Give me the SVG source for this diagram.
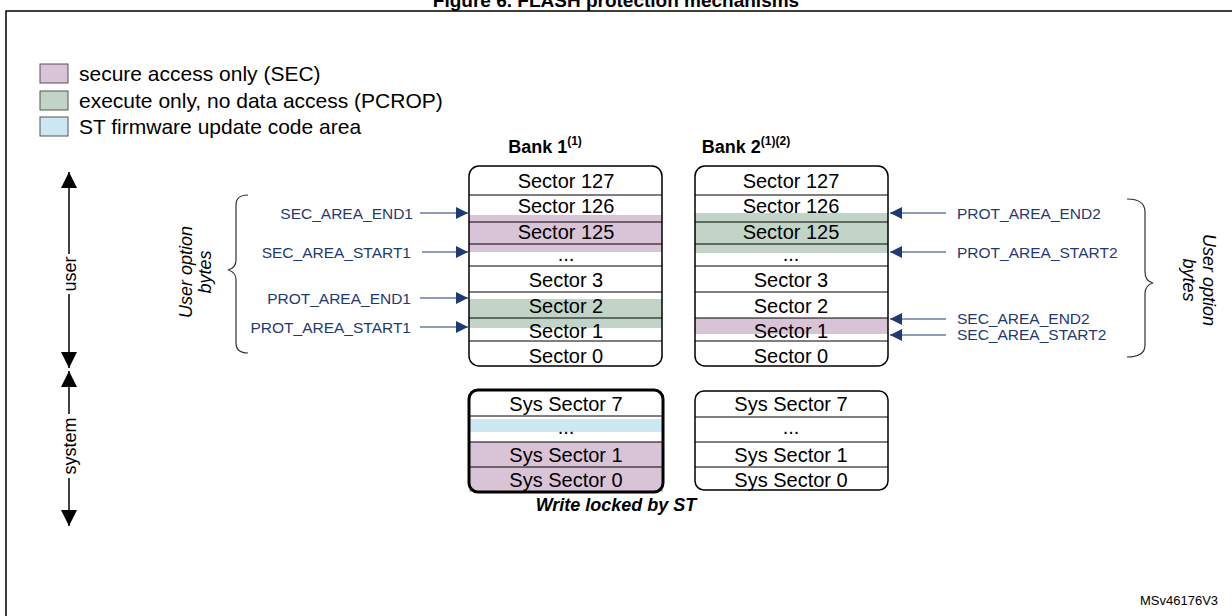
<svg xmlns="http://www.w3.org/2000/svg" width="1232" height="616" viewBox="0 0 1232 616">
<defs>
<style>
text{font-family:"Liberation Sans",Arial,sans-serif;fill:#000}
.sec{font-size:20px;text-anchor:middle}
.lbl{font-size:15.5px;fill:#1f3a73}
.leg{font-size:21px}
.row{stroke:#000;stroke-width:1;fill:none}
.box{fill:none;stroke:#000;stroke-width:1.5}
.pink{fill:#d9c3d7}
.green{fill:#c2d3c7}
.blue{fill:#cde8f2}
.pt{stroke:#1f3a73;stroke-width:1.2;fill:none}
.brace{fill:none;stroke:#333;stroke-width:1.2}
</style>
<marker id="nav" viewBox="0 0 10 10" refX="10" refY="5" markerWidth="20" markerHeight="12" markerUnits="userSpaceOnUse" orient="auto"><path d="M0,0 L10,5 L0,10 z" fill="#1f3a73"/></marker>
<marker id="blk" viewBox="0 0 10 10" refX="10" refY="5" markerWidth="24" markerHeight="16" markerUnits="userSpaceOnUse" orient="auto"><path d="M0,0 L10,5 L0,10 z" fill="#000"/></marker>
</defs>
<rect width="1232" height="616" fill="#fff"/>
<text x="616" y="7" font-size="19" font-weight="bold" text-anchor="middle">Figure 6. FLASH protection mechanisms</text>
<path d="M6,616 V11 H1232" fill="none" stroke="#000" stroke-width="1.5"/>

<g id="legend">
<rect x="40" y="64" width="28" height="19" class="pink" stroke="#555"/>
<rect x="40" y="91" width="28" height="19" class="green" stroke="#555"/>
<rect x="40" y="117" width="28" height="19" class="blue" stroke="#555"/>
<text x="79" y="81" class="leg">secure access only (SEC)</text>
<text x="79" y="108" class="leg">execute only, no data access (PCROP)</text>
<text x="79" y="134" class="leg">ST firmware update code area</text>
</g>

<g id="bank1">
<text x="545" y="153" font-size="18" font-weight="bold" text-anchor="middle">Bank 1<tspan font-size="12" dy="-8">(1)</tspan></text>
<rect x="469" y="215" width="193" height="37" class="pink"/>
<rect x="469" y="299" width="193" height="29" class="green"/>
<path class="row" d="M469,195H662M469,222H662M469,244H662M469,266H662M469,292H662M469,318H662M469,341H662"/>
<rect x="469" y="166" width="193" height="200" rx="10" class="box"/>
<text x="566" y="188" class="sec">Sector 127</text>
<text x="566" y="213" class="sec">Sector 126</text>
<text x="566" y="239" class="sec">Sector 125</text>
<text x="566" y="261" class="sec">...</text>
<text x="566" y="287" class="sec">Sector 3</text>
<text x="566" y="313" class="sec">Sector 2</text>
<text x="566" y="338" class="sec">Sector 1</text>
<text x="566" y="363" class="sec">Sector 0</text>
</g>

<g id="bank2">
<text x="746" y="153" font-size="18" font-weight="bold" text-anchor="middle">Bank 2<tspan font-size="12" dy="-8">(1)(2)</tspan></text>
<rect x="695" y="213" width="193" height="40" class="green"/>
<rect x="695" y="318" width="193" height="16" class="pink"/>
<path class="row" d="M695,195H888M695,222H888M695,244H888M695,266H888M695,292H888M695,318H888M695,341H888"/>
<rect x="695" y="166" width="193" height="200" rx="10" class="box"/>
<text x="791" y="188" class="sec">Sector 127</text>
<text x="791" y="213" class="sec">Sector 126</text>
<text x="791" y="239" class="sec">Sector 125</text>
<text x="791" y="261" class="sec">...</text>
<text x="791" y="287" class="sec">Sector 3</text>
<text x="791" y="313" class="sec">Sector 2</text>
<text x="791" y="338" class="sec">Sector 1</text>
<text x="791" y="363" class="sec">Sector 0</text>
</g>

<g id="sys1">
<rect x="469" y="419" width="194" height="13" class="blue"/>
<rect x="469" y="442" width="194" height="50" class="pink"/>
<path class="row" d="M469,416H663M469,442H663M469,467H663"/>
<rect x="469" y="390" width="194" height="102" rx="9" fill="none" stroke="#000" stroke-width="3"/>
<text x="566" y="411" class="sec">Sys Sector 7</text>
<text x="566" y="434" class="sec">...</text>
<text x="566" y="462" class="sec">Sys Sector 1</text>
<text x="566" y="487" class="sec">Sys Sector 0</text>
<text x="616" y="511" font-size="18" font-weight="bold" font-style="italic" text-anchor="middle">Write locked by ST</text>
</g>

<g id="sys2">
<path class="row" d="M695,417H888M695,442H888M695,467H888"/>
<rect x="695" y="391" width="193" height="99" rx="9" class="box"/>
<text x="791" y="411" class="sec">Sys Sector 7</text>
<text x="791" y="434" class="sec">...</text>
<text x="791" y="462" class="sec">Sys Sector 1</text>
<text x="791" y="487" class="sec">Sys Sector 0</text>
</g>

<g id="connectors">
<path class="pt" d="M420,213H468" marker-end="url(#nav)"/>
<path class="pt" d="M422,252H468" marker-end="url(#nav)"/>
<path class="pt" d="M420,298H468" marker-end="url(#nav)"/>
<path class="pt" d="M420,327H468" marker-end="url(#nav)"/>
<path class="pt" d="M946,213H890" marker-end="url(#nav)"/>
<path class="pt" d="M946,252H890" marker-end="url(#nav)"/>
<path class="pt" d="M946,319H890" marker-end="url(#nav)"/>
<path class="pt" d="M946,335H890" marker-end="url(#nav)"/>
<path d="M69,254V172" stroke="#000" stroke-width="1.5" marker-end="url(#blk)"/>
<path d="M69,294V368" stroke="#000" stroke-width="1.5" marker-end="url(#blk)"/>
<path d="M69,414V371" stroke="#000" stroke-width="1.5" marker-end="url(#blk)"/>
<path d="M69,478V526" stroke="#000" stroke-width="1.5" marker-end="url(#blk)"/>
</g>

<g id="labels">
<text x="413" y="219" class="lbl" text-anchor="end">SEC_AREA_END1</text>
<text x="411" y="258" class="lbl" text-anchor="end">SEC_AREA_START1</text>
<text x="411" y="304" class="lbl" text-anchor="end">PROT_AREA_END1</text>
<text x="411" y="333" class="lbl" text-anchor="end">PROT_AREA_START1</text>
<text x="957" y="219" class="lbl">PROT_AREA_END2</text>
<text x="957" y="258" class="lbl">PROT_AREA_START2</text>
<text x="957" y="324" class="lbl">SEC_AREA_END2</text>
<text x="957" y="340" class="lbl">SEC_AREA_START2</text>
<text transform="translate(76,274) rotate(-90)" font-size="18" text-anchor="middle">user</text>
<text transform="translate(76,446) rotate(-90)" font-size="18" text-anchor="middle">system</text>
</g>

<g id="brace1">
<path class="brace" d="M248,195 Q236,195 236,205 V260 Q236,268 228,270 Q236,272 236,280 V343 Q236,353 248,353"/>
<text transform="translate(192,272) rotate(-90)" font-size="18" font-style="italic" text-anchor="middle">User option</text>
<text transform="translate(211,272) rotate(-90)" font-size="18" font-style="italic" text-anchor="middle">bytes</text>
</g>
<g id="brace2">
<path class="brace" d="M1127,199 Q1145,199 1145,212 V272 Q1145,281 1153,283 Q1145,285 1145,294 V345 Q1145,357 1127,357"/>
<text transform="translate(1203,280) rotate(90)" font-size="18" font-style="italic" text-anchor="middle">User option</text>
<text transform="translate(1183,280) rotate(90)" font-size="18" font-style="italic" text-anchor="middle">bytes</text>
</g>
<text x="1140" y="605" font-size="13">MSv46176V3</text>
</svg>
